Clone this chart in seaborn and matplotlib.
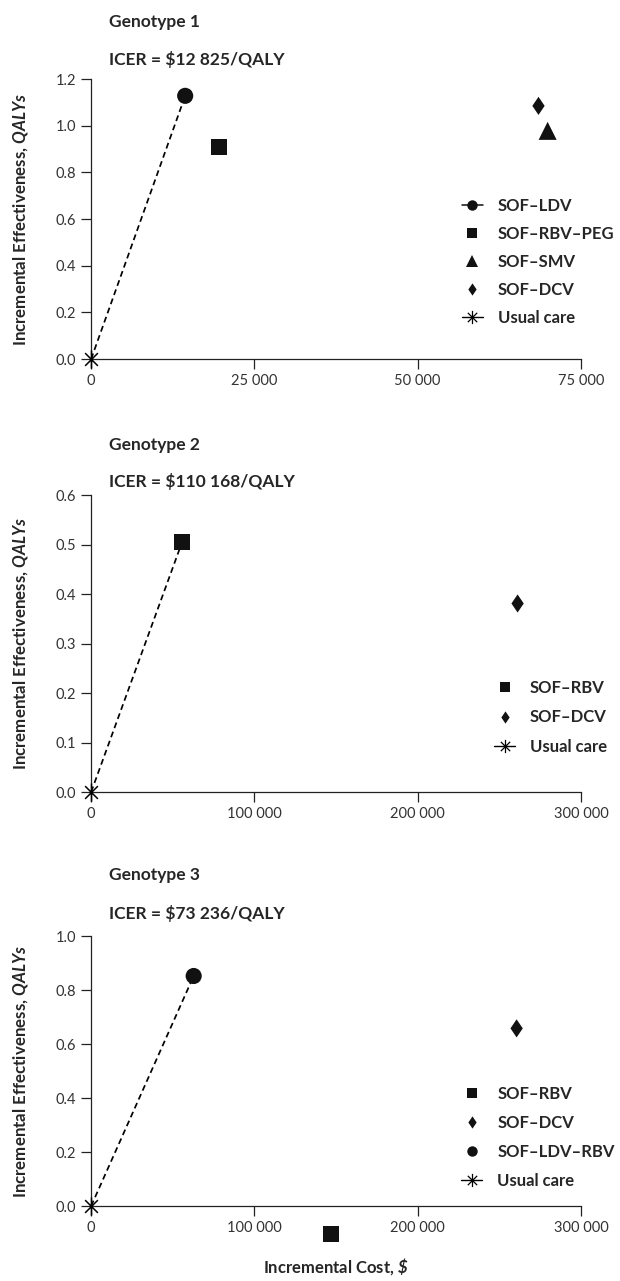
import numpy as np
import pandas as pd
import seaborn as sns
import matplotlib.pyplot as plt
from matplotlib.path import Path
from matplotlib.lines import Line2D
from matplotlib.ticker import FuncFormatter, MultipleLocator

# data
g1_regimens = ["SOF–LDV", "SOF–RBV–PEG", "SOF–SMV", "SOF–DCV"]
g1_cost = [14400, 19550, 69900, 68500]
g1_qaly = [1.128, 0.909, 0.978, 1.085]

g2_regimens = ["SOF–RBV", "SOF–DCV"]
g2_cost = [55700, 261200]
g2_qaly = [0.505, 0.381]

g3_regimens = ["SOF–RBV", "SOF–DCV", "SOF–LDV–RBV"]
g3_cost = [146900, 260600, 62800]
g3_qaly = [-0.105, 0.658, 0.852]

usual_cost = [0]
usual_qaly = [0]

titles = ["Genotype 1", "Genotype 2", "Genotype 3"]
icers = ["ICER = $12 825/QALY", "ICER = $110 168/QALY", "ICER = $73 236/QALY"]
frontier = ["SOF–LDV", "SOF–RBV", "SOF–LDV–RBV"]  # dashed line goes to this one

sns.set_style("ticks")
plt.rcParams['font.family'] = ['Lato', 'DejaVu Sans']
plt.rcParams['mathtext.fontset'] = 'custom'
plt.rcParams['mathtext.bfit'] = 'Lato:italic:bold'
plt.rcParams['mathtext.bf'] = 'Lato:bold'

# asterisk marker: vertical bar plus an X
star = Path([(0, -1), (0, 1), (-0.707, -0.707), (0.707, 0.707), (-0.707, 0.707), (0.707, -0.707)],
            [Path.MOVETO, Path.LINETO, Path.MOVETO, Path.LINETO, Path.MOVETO, Path.LINETO])
diamond = [(0, 1), (0.68, 0), (0, -1), (-0.68, 0), (0, 1)]

markers = {"SOF–LDV": "o", "SOF–LDV–RBV": "o", "SOF–RBV–PEG": "s", "SOF–RBV": "s",
           "SOF–SMV": "^", "SOF–DCV": diamond}
sizes = {"SOF–LDV": 135, "SOF–LDV–RBV": 135, "SOF–RBV–PEG": 132, "SOF–RBV": 132,
         "SOF–SMV": 169, "SOF–DCV": 170}
leg_size = {"SOF–LDV": 7.5, "SOF–LDV–RBV": 7.5, "SOF–RBV–PEG": 6.8, "SOF–RBV": 6.8,
            "SOF–SMV": 8.2, "SOF–DCV": 8.8}

panels = [
    dict(reg=g1_regimens, cost=g1_cost, qaly=g1_qaly, xmax=75000, xstep=25000, ymax=1.2, ystep=0.2,
         rect=[0.147, 0.7197, 0.790, 0.2186], leg=(0.757, 0.575), spacing=0.72),
    dict(reg=g2_regimens, cost=g2_cost, qaly=g2_qaly, xmax=300000, xstep=100000, ymax=0.6, ystep=0.1,
         rect=[0.147, 0.3817, 0.790, 0.2318], leg=(0.823, 0.377), spacing=0.8),
    dict(reg=g3_regimens, cost=g3_cost, qaly=g3_qaly, xmax=300000, xstep=100000, ymax=1.0, ystep=0.2,
         rect=[0.147, 0.0585, 0.790, 0.2108], leg=(0.756, 0.444), spacing=0.78),
]
title_y = [22, 445, 875]
icer_y = [59, 482, 913]

fig = plt.figure(figsize=(6.2, 12.81), dpi=100)
fmt = FuncFormatter(lambda v, p: f"{v:,.0f}".replace(",", " "))

for i, p in enumerate(panels):
    ax = fig.add_axes(p["rect"])
    df = pd.DataFrame({"regimen": p["reg"], "cost": p["cost"], "qaly": p["qaly"]})

    # dashed line from usual care to the efficient regimen
    k = p["reg"].index(frontier[i])
    sns.lineplot(x=[usual_cost[0], p["cost"][k]], y=[usual_qaly[0], p["qaly"][k]], ax=ax,
                 color="black", linestyle=(0, (3.4, 2.2)), linewidth=1.25, zorder=2)

    sns.scatterplot(data=df, x="cost", y="qaly", style="regimen", markers=markers,
                    size="regimen", sizes=sizes, color="#111111", linewidth=0,
                    legend=False, ax=ax, clip_on=False, zorder=3)
    # usual care at the origin
    ax.plot(usual_cost, usual_qaly, linestyle="none", marker=star, markersize=13,
            markeredgewidth=1.1, color="black", clip_on=False, zorder=4)

    ax.set_xlim(0, p["xmax"])
    ax.set_ylim(0, p["ymax"])
    ax.xaxis.set_major_locator(MultipleLocator(p["xstep"]))
    ax.yaxis.set_major_locator(MultipleLocator(p["ystep"]))
    ax.xaxis.set_major_formatter(fmt)
    ax.yaxis.set_major_formatter(FuncFormatter(lambda v, q: f"{v:.1f}"))
    sns.despine(ax=ax)
    for s in ["left", "bottom"]:
        ax.spines[s].set_linewidth(0.9)
        ax.spines[s].set_color("#222222")
    ax.tick_params(length=7, width=0.9, color="#222222", labelsize=10.5, labelcolor="#333333", pad=4)

    ax.set_ylabel(r"Incremental Effectiveness, $\mathbfit{QALYs}$", fontsize=12.2, fontweight="bold")
    ax.yaxis.set_label_coords(-0.125, 0.5)
    ax.set_xlabel("")

    handles = []
    labels = []
    for r in p["reg"]:
        ls = "-" if r == "SOF–LDV" else "none"
        handles.append(Line2D([], [], color="#111111", linestyle=ls, linewidth=1.1,
                              marker=markers[r], markersize=leg_size[r], markeredgewidth=0))
        labels.append(r)
    handles.append(Line2D([], [], color="black", linestyle="-", linewidth=1.0, marker=star,
                          markersize=9.5, markeredgewidth=0.9))
    labels.append("Usual care")
    ax.legend(handles, labels, loc="upper left", bbox_to_anchor=p["leg"], frameon=False,
              borderpad=0, borderaxespad=0, handlelength=1.25, handletextpad=0.9,
              labelspacing=p["spacing"], prop=dict(size=12, weight="bold"))

    fig.text(109 / 620, 1 - title_y[i] / 1281, titles[i], fontsize=12.5, fontweight="bold",
             ha="left", va="center")
    fig.text(109 / 620, 1 - icer_y[i] / 1281, icers[i], fontsize=12.5, fontweight="bold",
             ha="left", va="center")

ax.set_xlabel(r"Incremental Cost, $\mathbfit{\$}$", fontsize=12, fontweight="bold", labelpad=15)

fig.savefig("out.png", dpi=100)
